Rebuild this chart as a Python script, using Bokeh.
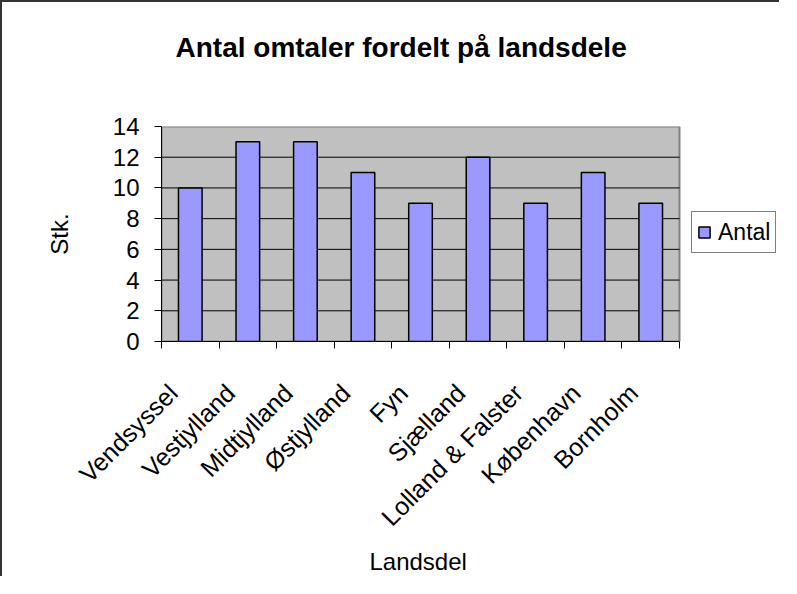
import math
from bokeh.plotting import figure
from bokeh.models import FixedTicker, Range1d, Legend, LegendItem, ColumnDataSource
from bokeh.embed import file_html
from bokeh.resources import INLINE

# ---- data ----
categories = ["Vendsyssel", "Vestjylland", "Midtjylland", "Østjylland", "Fyn",
              "Sjælland", "Lolland & Falster", "København", "Bornholm"]
antal = [10, 13, 13, 11, 9, 12, 9, 11, 9]
y_ticks = [0, 2, 4, 6, 8, 10, 12, 14]
series_name = "Antal"
title_text = "Antal omtaler fordelt på landsdele"
x_label = "Landsdel"
y_label = "Stk."

FONT = "Liberation Sans"
W, H = 779, 576
LEFT, TOP, BOTTOM = 159, 124, 237   # borders around the plot area (px)
DATA_W = 518                         # width of the grey plot area (px)
LABEL_SHIFT = 0.3                    # slanted labels end a little left of the bar centre

n = len(categories)
xc = [i + 0.5 for i in range(n)]
src = ColumnDataSource(dict(x=xc, top=antal, cat=categories))

frame_w = W - LEFT
x_end = n * frame_w / DATA_W

p = figure(width=W, height=H, output_backend="svg", toolbar_location=None,
           x_range=Range1d(0, x_end), y_range=Range1d(y_ticks[0], y_ticks[-1]),
           min_border_left=LEFT, min_border_right=0, min_border_top=TOP,
           min_border_bottom=BOTTOM)
p.styles = {"border-left": "2px solid #333333", "border-top": "2px solid #333333"}
p.background_fill_color = "white"
p.border_fill_color = "white"
p.outline_line_color = None

# title (blank lines below lift the title upwards)
p.title.text = title_text + "\n \n "
p.title.align = "left"
p.title.offset = 14
p.title.text_font = FONT
p.title.text_font_size = "28px"
p.title.text_font_style = "bold"
p.title.text_color = "black"
p.title.standoff = 4

# grey plot area with its grey outline
p.quad(left=[0], right=[n], bottom=[y_ticks[0]], top=[y_ticks[-1]],
       fill_color="#C0C0C0", line_color="#808080", line_width=2)
# horizontal gridlines inside the plot area
inner = y_ticks[1:-1]
p.segment(x0=[0] * len(inner), x1=[n] * len(inner), y0=inner, y1=inner,
          line_color="black", line_width=1)

r = p.vbar(x="x", top="top", width=0.41, source=src, fill_color="#9999FF",
           line_color="black", line_width=1.5)

# y axis
yax = p.yaxis[0]
yax.ticker = FixedTicker(ticks=y_ticks)
yax.axis_line_color = "black"
yax.major_tick_line_color = "black"
yax.major_tick_out = 7
yax.major_tick_in = 0
yax.minor_tick_line_color = None
yax.major_label_text_font = FONT
yax.major_label_text_font_size = "24px"
yax.major_label_text_color = "black"
yax.major_label_standoff = 15
yax.axis_label = y_label
yax.axis_label_text_font = FONT
yax.axis_label_text_font_size = "24px"
yax.axis_label_text_font_style = "normal"
yax.axis_label_text_color = "black"
yax.axis_label_standoff = 37

# x axis
label_pos = [x - LABEL_SHIFT for x in xc]
xax = p.xaxis[0]
xax.bounds = (0, n)
xax.ticker = FixedTicker(ticks=label_pos, minor_ticks=list(range(n + 1)))
xax.major_label_overrides = {label_pos[i]: categories[i] for i in range(n)}
xax.axis_line_color = "black"
xax.major_tick_line_color = None
xax.major_tick_out = 0
xax.major_tick_in = 0
xax.minor_tick_line_color = "black"
xax.minor_tick_out = 7
xax.minor_tick_in = 0
xax.major_label_orientation = math.pi / 4
xax.major_label_text_font = FONT
xax.major_label_text_font_size = "25px"
xax.major_label_text_color = "black"
xax.major_label_standoff = 40
# non-breaking spaces move the centred axis title over the bars
xax.axis_label = x_label + "\u00a0" * 16
xax.axis_label_text_font = FONT
xax.axis_label_text_font_size = "24px"
xax.axis_label_text_font_style = "normal"
xax.axis_label_text_color = "black"
xax.axis_label_standoff = 4

p.xgrid.visible = False
p.ygrid.visible = False

legend = Legend(items=[LegendItem(label=series_name, renderers=[r])],
                location=(530, 88), margin=0, padding=5, spacing=0,
                glyph_width=14, glyph_height=14, label_standoff=7,
                label_height=30,
                label_text_font=FONT, label_text_font_size="23px",
                label_text_color="black", border_line_color="black",
                border_line_width=1, background_fill_color="white")
p.add_layout(legend, "center")

open("out.html", "w").write(file_html(p, INLINE))
